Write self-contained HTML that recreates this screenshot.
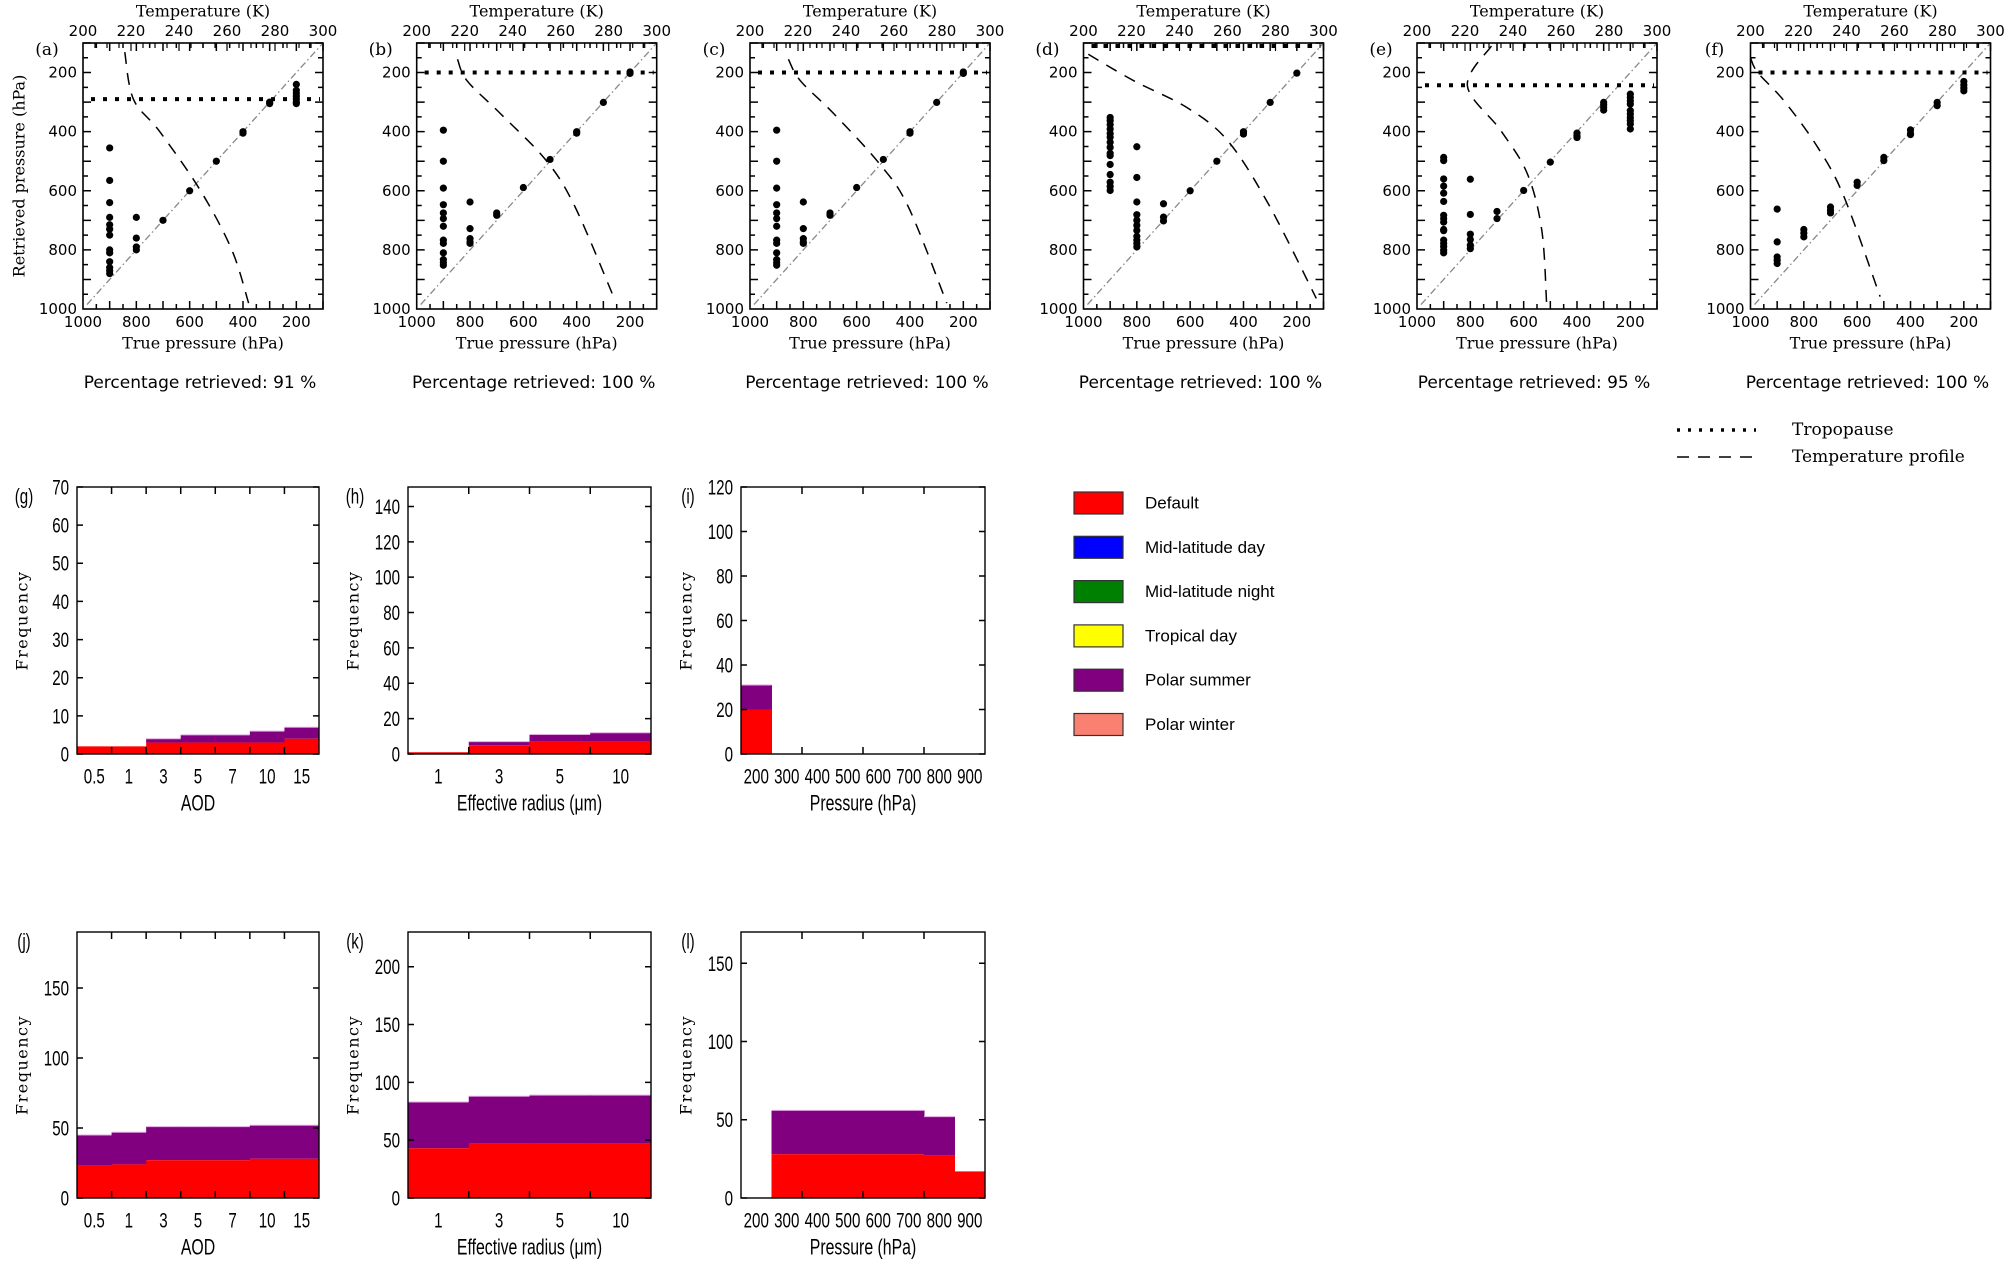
<!DOCTYPE html>
<html><head><meta charset="utf-8"><style>
body{margin:0;background:#fff;}
svg{display:block;}
.ser{font-family:"DejaVu Serif","Liberation Serif",serif;}
.san{font-family:"DejaVu Sans","Liberation Sans",sans-serif;}
.nar{font-family:"Liberation Sans","DejaVu Sans",sans-serif;}
</style></head><body>
<svg id="fig" width="2005" height="1264" viewBox="0 0 2005 1264" xmlns="http://www.w3.org/2000/svg">
<rect width="2005" height="1264" fill="#fff"/>
</svg>
<script>
// ---------- Scatter panel data ----------
const panelLabels = ["(a)","(b)","(c)","(d)","(e)","(f)"];
const percentRetrieved = [91,100,100,100,95,100];
const tropopause = [290,200,200,110,243,200];
const trueP = [
 [900,900,900,900,900,900,900,900,900,900,900,900,900,800,800,800,800,700,600,500,400,400,300,300,200,200,200,200,200,200,200],
 [900,900,900,900,900,900,900,900,900,900,900,900,900,800,800,800,800,800,700,700,600,500,400,400,300,200,200],
 [900,900,900,900,900,900,900,900,900,900,900,900,900,800,800,800,800,800,700,700,600,500,400,400,300,200,200],
 [900,900,900,900,900,900,900,900,900,900,900,900,900,900,900,800,800,800,800,800,800,800,800,800,800,800,700,700,700,600,500,400,400,300,200],
 [900,900,900,900,900,900,900,900,900,900,900,900,900,900,900,900,800,800,800,800,800,800,700,700,600,500,400,400,400,300,300,300,300,200,200,200,200,200,200,200,200,200,200],
 [900,900,900,900,900,800,800,800,700,700,700,600,600,500,500,400,400,400,300,300,200,200,200,200]
];
const retrievedP = [
 [455,565,640,690,715,730,750,800,810,840,860,870,880,690,760,790,800,700,600,500,400,405,300,305,240,260,270,280,290,300,305],
 [395,500,591,647,675,694,720,767,778,810,833,843,852,638,728,762,773,778,675,683,589,494,400,405,301,198,203],
 [395,500,591,647,675,694,720,767,778,810,833,843,852,638,728,762,773,778,675,683,589,494,400,405,301,198,203],
 [352,363,376,391,406,419,436,453,473,481,511,545,571,585,599,451,555,638,681,700,717,734,754,767,778,790,644,689,702,600,500,400,408,301,202],
 [487,498,560,584,608,636,683,694,706,731,735,767,778,789,801,810,561,680,747,765,784,796,670,694,599,503,405,415,420,301,309,318,327,273,284,296,307,329,340,352,363,374,391],
 [662,773,824,835,846,731,743,756,655,666,675,571,582,487,498,394,406,410,301,312,230,242,253,262]
];
const profileP = [
 [131,290,400,600,800,980],
 [155,228,340,498,655,958],
 [155,228,340,509,655,980],
 [138,228,318,430,644,964],
 [110,245,397,543,734,981],
 [150,200,296,453,621,958]
];
const profileT = [
 [217.4,221,232,249,262,269],
 [217,221,235,254,266,282],
 [216,221,235,254,266,282],
 [202,221,243,260,277,297],
 [231,221,235,246,252,254],
 [200,203,214,228,239,254]
];
const pTickLabels = ["1000","800","600","400","200"];
const tTickLabels = ["200","220","240","260","280","300"];

// ---------- Histogram data ----------
const aodCats = ["0.5","1","3","5","7","10","15"];
const reffCats = ["1","3","5","10"];
const presCats = ["200","300","400","500","600","700","800","900"];
const gDefault = [2,2,3,3,3,3,4];
const gTotal   = [2,2,4,5,5,6,7];
const hDefault = [1,5,7,7];
const hTotal   = [1,7,11,12];
const iDefault = [20,0,0,0,0,0,0,0];
const iTotal   = [31,0,0,0,0,0,0,0];
const jDefault = [23,24,27,27,27,28,28];
const jTotal   = [45,47,51,51,51,52,52];
const kDefault = [43,47,47,47];
const kTotal   = [83,88,89,89];
const lDefault = [0,28,28,28,28,28,27,17];
const lTotal   = [0,56,56,56,56,56,52,17];
const gTicks = [0,10,20,30,40,50,60,70];
const hTicks = [0,20,40,60,80,100,120,140];
const iTicks = [0,20,40,60,80,100,120];
const jTicks = [0,50,100,150];
const kTicks = [0,50,100,150,200];
const lTicks = [0,50,100,150];

const NS="http://www.w3.org/2000/svg";
const svg=document.getElementById('fig');
function mk(tag,attrs,parent){const e=document.createElementNS(NS,tag);for(const k in attrs)e.setAttribute(k,attrs[k]);(parent||svg).appendChild(e);return e;}
function txt(s,x,y,cls,size,anchor,parent,extra){const t=mk('text',Object.assign({x:x,y:y,'font-size':size,'text-anchor':anchor||'middle','dominant-baseline':'central',class:cls,fill:'#000'},extra||{}),parent);t.textContent=s;return t;}
function ntxt(s,x,y,size,anchor,parent){const t=mk('text',{x:0,y:0,'font-size':size,'text-anchor':anchor||'middle','dominant-baseline':'central',class:'nar',fill:'#000',transform:`translate(${x},${y}) scale(0.72,1)`},parent);t.textContent=s;return t;}
function smooth(pts){let d=`M${pts[0][0]},${pts[0][1]}`;for(let i=0;i<pts.length-1;i++){const p0=pts[Math.max(0,i-1)],p1=pts[i],p2=pts[i+1],p3=pts[Math.min(pts.length-1,i+2)];const c1=[p1[0]+(p2[0]-p0[0])/6,p1[1]+(p2[1]-p0[1])/6],c2=[p2[0]-(p3[0]-p1[0])/6,p2[1]-(p3[1]-p1[1])/6];d+=`C${c1[0].toFixed(1)},${c1[1].toFixed(1)} ${c2[0].toFixed(1)},${c2[1].toFixed(1)} ${p2[0].toFixed(1)},${p2[1].toFixed(1)}`;}return d;}

// ---------- Scatter panels ----------
const PW=240, PH=266, PT=43;
const lefts=[83,416.7,750,1083.5,1417,1750.5];
for(let i=0;i<6;i++){
  const L=lefts[i];
  const g=mk('g',{});
  
  
  const xP=p=>L+(1000-p)/900*PW;
  const yP=p=>PT+(p-100)/900*PH;
  const xT=t=>L+(t-200)/100*PW;
  let d='';
  for(let p=950;p>=100;p-=50){const x=xP(p),len=(p%100===0)?8:5;d+=`M${x},${PT+PH}v${-len}M${x},${PT}v${len}`;}
  for(let p=950;p>=100;p-=50){const y=yP(p),len=(p%100===0)?8:5;d+=`M${L},${y}h${len}M${L+PW},${y}h${-len}`;}
  mk('path',{d:d,stroke:'#000','stroke-width':1.5,fill:'none'},g);
  let dt='';
  for(let t=205;t<300;t+=5){const x=xT(t),len=(t%20===0)?8:5;dt+=`M${x},${PT}v${len}`;}
  mk('path',{d:dt,stroke:'#000','stroke-width':1.2,fill:'none'},g);
  const diag=mk('line',{x1:xP(985),y1:yP(985),x2:xP(100),y2:yP(100),stroke:'#888','stroke-width':1.3,'stroke-dasharray':'7 3 1.5 3'},g);
  
  
  const tp=mk('line',{x1:L+8,y1:yP(tropopause[i]),x2:L+PW-3,y2:yP(tropopause[i]),stroke:'#000','stroke-width':4,'stroke-dasharray':'4 8'},g);
  
  
  const pts=profileP[i].map((p,k)=>[xT(profileT[i][k]),yP(p)]);
  const pr=mk('path',{d:smooth(pts),fill:'none',stroke:'#000','stroke-width':1.5,'stroke-dasharray':'12 9'},g);
  
  
  trueP[i].forEach((p,k)=>{
    const c=mk('circle',{cx:xP(p),cy:yP(retrievedP[i][k]),r:3.6,fill:'#000'},g);
    
    
  });
  mk('rect',{x:L,y:PT,width:PW,height:PH,fill:'none',stroke:'#000','stroke-width':1.6},g);
  pTickLabels.forEach((s,k)=>{const p=1000-200*k;
    txt(s,xP(p),322,'san',15,'middle',g);
    txt(s,L-6,yP(p),'san',15,'end',g);});
  tTickLabels.forEach((s,k)=>txt(s,xT(200+20*k),31,'san',15,'middle',g));
  const tt=txt('Temperature (K)',L+PW/2,11,'ser',16,'middle',g);
  
  
  const bt=txt('True pressure (hPa)',L+PW/2,343,'ser',16,'middle',g);
  
  
  const pl=txt(panelLabels[i],L-36,50,'ser',17,'middle',g);
  
  
  const pc=txt('Percentage retrieved: '+percentRetrieved[i]+' %',L+PW/2-3,383,'san',17,'middle',g);
  
  
}
const yt=txt('Retrieved pressure (hPa)',19,176,'ser',16,'middle',svg,{transform:'rotate(-90 19 176)'});



// ---------- Histograms ----------
function hist(name,label,L,T,W,H,cats,def,tot,ticks,ymax,xlab,tickEvery){
  const g=mk('g',{});
  
  
  const bw=W/cats.length;
  const xB=k=>L+k*bw;
  const y=v=>T+H-v/ymax*H;
  cats.forEach((c,k)=>{
    if(tot[k]>def[k]){
      const r=mk('rect',{x:xB(k),y:y(tot[k]),width:bw+0.5,height:y(def[k])-y(tot[k]),fill:'#800080'},g);
      
      
      mk('line',{x1:xB(k),x2:xB(k)+bw,y1:y(tot[k]),y2:y(tot[k]),stroke:'#e6a8e6','stroke-width':1},g);
    }
    if(def[k]>0){
      const r=mk('rect',{x:xB(k),y:y(def[k]),width:bw+0.5,height:y(0)-y(def[k]),fill:'#ff0000'},g);
      
      
    }
    ntxt(c,xB(k)+bw/2,T+H+22,21,'middle',g);
  });
  let d='';
  for(let k=tickEvery;k<cats.length;k+=tickEvery){d+=`M${xB(k)},${T+H}v-7M${xB(k)},${T}v7`;}
  ticks.forEach(v=>{d+=`M${L},${y(v)}h6M${L+W},${y(v)}h-6`;ntxt(String(v),L-8,y(v),21,'end',g);});
  mk('path',{d:d,stroke:'#000','stroke-width':1.5,fill:'none'},g);
  mk('rect',{x:L,y:T,width:W,height:H,fill:'none',stroke:'#000','stroke-width':1.4},g);
  ntxt(label,L-53,T+9,21,'middle',g);
  const xl=ntxt(xlab,L+W/2,T+H+50,22,'middle',g);
  
  
  const fx=L-55, fy=T+H/2;
  const fl=txt('Frequency',fx,fy,'ser',16,'middle',g,{transform:`rotate(-90 ${fx} ${fy})`,'letter-spacing':'1.5'});
  
  
}
const ER='Effective radius (\u03bcm)';
hist('histogram-g','(g)',77,487,242,267,aodCats,gDefault,gTotal,gTicks,70,'AOD',1);
hist('histogram-h','(h)',408,487,243,267,reffCats,hDefault,hTotal,hTicks,151,ER,1);
hist('histogram-i','(i)',741,487,244,267,presCats,iDefault,iTotal,iTicks,120,'Pressure (hPa)',2);
hist('histogram-j','(j)',77,932,242,266,aodCats,jDefault,jTotal,jTicks,190,'AOD',1);
hist('histogram-k','(k)',408,932,243,266,reffCats,kDefault,kTotal,kTicks,230,ER,1);
hist('histogram-l','(l)',741,932,244,266,presCats,lDefault,lTotal,lTicks,170,'Pressure (hPa)',2);

// ---------- Legends ----------
const legNames=["Default","Mid-latitude day","Mid-latitude night","Tropical day","Polar summer","Polar winter"];
const legColors=["#ff0000","#0000ff","#008000","#ffff00","#800080","#fa8072"];
legNames.forEach((n,k)=>{
  const g=mk('g',{});
  
  
  const yy=492+k*44.3;
  mk('rect',{x:1074,y:yy,width:49,height:22,fill:legColors[k],stroke:'#333','stroke-width':1.2},g);
  txt(n,1145,yy+11,'nar',17,'start',g);
});
const lg1=mk('g',{});


mk('line',{x1:1677,y1:430,x2:1756,y2:430,stroke:'#000','stroke-width':3.5,'stroke-dasharray':'3 8'},lg1);
txt('Tropopause',1792,430,'ser',17,'start',lg1);
const lg2=mk('g',{});


mk('line',{x1:1677,y1:457,x2:1756,y2:457,stroke:'#000','stroke-width':1.5,'stroke-dasharray':'12 9'},lg2);
txt('Temperature profile',1792,457,'ser',17,'start',lg2);
</script>
</body></html>
